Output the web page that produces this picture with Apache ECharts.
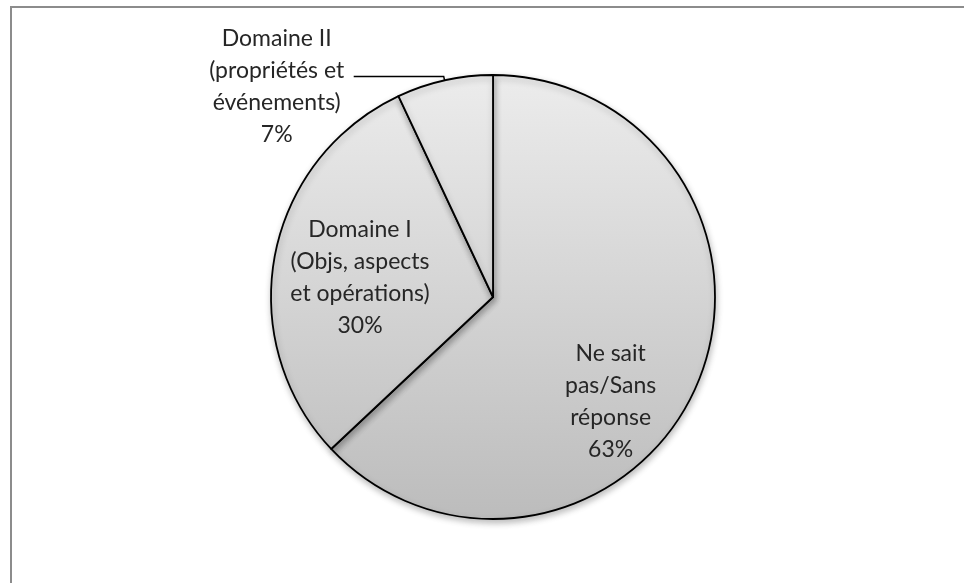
<!DOCTYPE html>
<html>
<head>
<meta charset="utf-8">
<script src="https://cdn.jsdelivr.net/npm/echarts@6/dist/echarts.min.js"></script>
<style>
html,body{margin:0;padding:0;background:#fff;}
#chart{width:964px;height:583px;}
</style>
</head>
<body>
<div id="chart"></div>
<script>
const categories = [
  "Ne sait\npas/Sans\nréponse",
  "Domaine I\n(Objs, aspects\net opérations)",
  "Domaine II\n(propriétés et\névénements)"
];
const values = [63, 30, 7];

const chart = echarts.init(document.getElementById('chart'), null, {renderer: 'canvas'});

const CX = 493, CY = 297, R = 222;
const grad = new echarts.graphic.LinearGradient(0, CY - R, 0, CY + R, [
  {offset: 0, color: '#ececec'},
  {offset: 1, color: '#bcbcbc'}
], true);

const labelShift = [
  {dx: 13, dy: 59},
  {dx: -21, dy: 2},
  {dx: -72, dy: 10, align: 'center'}
];

const data = categories.map((name, i) => {
  const item = {name: name, value: values[i]};
  if (i === 2) {
    item.label = {position: 'outside'};
    item.labelLine = {show: true, length: 4, length2: 90, lineStyle: {color: '#000', width: 1.5}};
  } else {
    item.label = {position: 'inside'};
    item.labelLine = {show: false};
  }
  return item;
});

chart.setOption({
  animation: false,
  backgroundColor: '#ffffff',
  graphic: [{
    type: 'rect',
    shape: {x: 11, y: 7, width: 1200, height: 1200},
    style: {fill: 'none', stroke: '#8c8c8c', lineWidth: 2},
    silent: true,
    z: -1
  }],
  series: [{
    type: 'pie',
    center: [CX, CY],
    radius: [0, R],
    startAngle: 90,
    clockwise: true,
    avoidLabelOverlap: false,
    data: data,
    itemStyle: {
      color: grad,
      borderColor: '#000',
      borderWidth: 1.8,
      shadowBlur: 6,
      shadowOffsetX: 1,
      shadowOffsetY: 3,
      shadowColor: 'rgba(0,0,0,0.25)'
    },
    label: {
      show: true,
      formatter: p => p.name + '\n' + p.value + '%',
      fontFamily: 'Lato, "Open Sans", sans-serif',
      fontSize: 23,
      lineHeight: 32,
      color: '#262626',
      align: 'center'
    },
    labelLayout: function (params) {
      const s = labelShift[params.dataIndex];
      const out = {dx: s.dx, dy: s.dy};
      if (s.align) out.align = s.align;
      return out;
    },
    emphasis: {disabled: true}
  }]
});
</script>
</body>
</html>
